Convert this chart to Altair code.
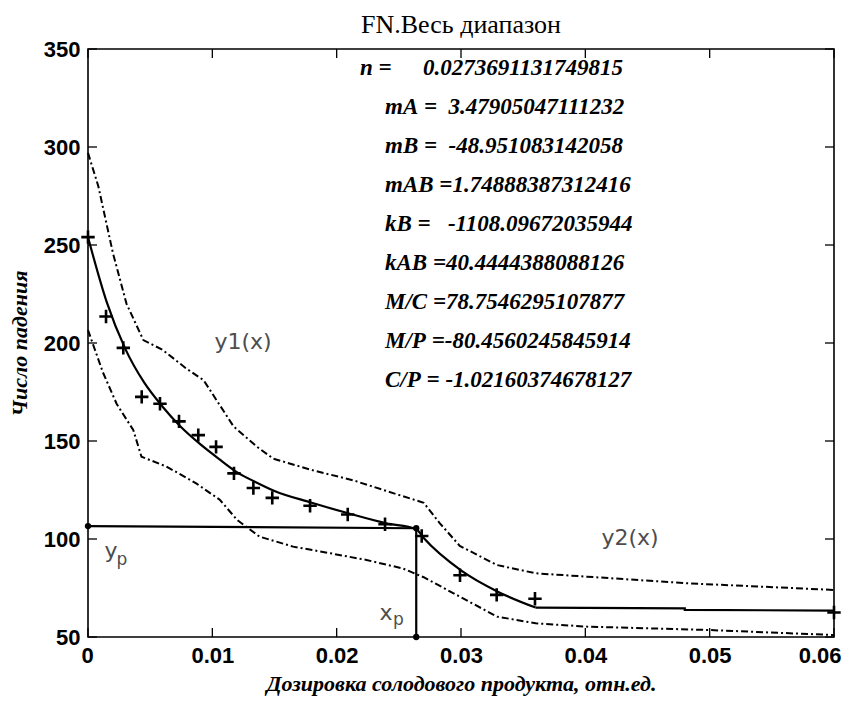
import altair as alt
import pandas as pd

# ---------------- data ----------------
pts_x = [0.0, 0.00145, 0.00284, 0.00432, 0.00579, 0.00732, 0.00887, 0.0103, 0.01174,
         0.0133, 0.01482, 0.01786, 0.02089, 0.02389, 0.02684, 0.02992, 0.03287, 0.03595, 0.06]
pts_y = [254, 213.5, 197.5, 172.5, 169, 160, 153, 147, 133.5,
         126, 121, 117, 112.5, 107.5, 101.5, 81.5, 71.5, 69.5, 62.5]

# fitted curve y1(x) -> y2(x)
fit_x = [0, 0.0015, 0.003, 0.0045, 0.006, 0.0075, 0.009, 0.0105, 0.012, 0.0135, 0.015,
         0.018, 0.021, 0.024, 0.0264, 0.027, 0.030, 0.033, 0.036]
fit_y = [254, 221, 197, 180, 167.5, 157, 148.5, 141, 134, 129, 124.5,
         118.5, 113, 108, 105, 100.5, 84, 73, 65]
# flat tail of the fitted curve
tail_x = [0.036, 0.048, 0.048, 0.06]
tail_y = [65, 64.6, 63.8, 63.5]

up_x = [0, 0.00083, 0.002, 0.0031, 0.00445, 0.006, 0.0079, 0.0093, 0.0117, 0.0136, 0.0149,
        0.0181, 0.0213, 0.0246, 0.027, 0.0283, 0.0299, 0.0329, 0.036, 0.0401, 0.0482, 0.06]
up_y = [297, 280, 246, 220, 201.5, 196.5, 187, 181, 157.5, 147, 141,
        135, 130, 123.3, 118.5, 108, 96.5, 86.7, 82.5, 80.8, 77.4, 74]

lo_x = [0, 0.0012, 0.0023, 0.00364, 0.0043, 0.0063, 0.0087, 0.0106, 0.012, 0.0138, 0.0165,
        0.0195, 0.0224, 0.0253, 0.027, 0.0299, 0.0329, 0.036, 0.0401, 0.0498, 0.06]
lo_y = [206.6, 185, 169, 155.6, 142, 137, 128.4, 120, 109.7, 101.2, 96.1,
        92.7, 89.3, 85, 80.5, 70.6, 60.4, 57, 55.3, 53.6, 51]

# break point (x_p, y_p) guide lines
guide_x = [0.0, 0.0264, 0.0264]
guide_y = [106.6, 105.5, 50.0]

x_ticks = [0, 0.01, 0.02, 0.03, 0.04, 0.05, 0.06]
y_ticks = [50, 100, 150, 200, 250, 300, 350]

stat_labels = ["n =", "mA =  3.47905047111232", "mB =  -48.951083142058",
               "mAB =1.74888387312416", "kB =   -1108.09672035944",
               "kAB =40.4444388088126", "M/C =78.7546295107877",
               "M/P =-80.4560245845914", "C/P = -1.02160374678127"]
n_value = "0.0273691131749815"

title_text = "FN.Весь диапазон"
x_title = "Дозировка солодового продукта, отн.ед."
y_title = "Число падения"

# ---------------- layout ----------------
W, H = 746, 588
XD = [0, 0.06]
YD = [50, 350]
SERIF = "Liberation Serif"
GRAY = "#4d4d4d"

def px_to_x(px):
    return XD[0] + (px - 88) / W * (XD[1] - XD[0])

def py_to_y(py):
    return YD[1] - (py - 49) / H * (YD[1] - YD[0])

xs = alt.Scale(domain=XD, nice=False, zero=False)
ys = alt.Scale(domain=YD, nice=False, zero=False)

X = alt.X("x:Q", scale=xs,
          axis=alt.Axis(values=x_ticks, format=".2~f", title=x_title, ticks=False,
                        domain=False, grid=False, labelPadding=8, labelFlush=True,
                        labelFlushOffset=7,
                        labelFont="Liberation Sans",
                        labelFontSize=22, labelFontWeight="bold", labelColor="black",
                        titleFont=SERIF, titleFontSize=22, titleFontStyle="italic",
                        titleFontWeight="bold", titleColor="black", titleY=46,
                        titleBaseline="middle"))
Y = alt.Y("y:Q", scale=ys,
          axis=alt.Axis(values=y_ticks, format="d", title=y_title, ticks=False,
                        domain=False, grid=False, labelPadding=8, labelFlush=False,
                        labelFont="Liberation Sans",
                        labelFontSize=22, labelFontWeight="bold", labelColor="black",
                        titleFont=SERIF, titleFontSize=22, titleFontStyle="italic",
                        titleFontWeight="bold", titleColor="black", titleX=-69,
                        titleBaseline="middle"))

fit_df = pd.DataFrame({"x": fit_x, "y": fit_y})
tail_df = pd.DataFrame({"x": tail_x, "y": tail_y, "o": range(len(tail_x))})
up_df = pd.DataFrame({"x": up_x, "y": up_y, "o": range(len(up_x))})
lo_df = pd.DataFrame({"x": lo_x, "y": lo_y, "o": range(len(lo_x))})
pts_df = pd.DataFrame({"x": pts_x, "y": pts_y})
guide_df = pd.DataFrame({"x": guide_x, "y": guide_y, "o": range(len(guide_x))})

fit = alt.Chart(fit_df).mark_line(color="black", strokeWidth=2.2,
                                  interpolate="monotone").encode(x=X, y=Y)
tail = alt.Chart(tail_df).mark_line(color="black", strokeWidth=2.2).encode(
    x="x:Q", y="y:Q", order="o:Q")

band_style = dict(color="black", strokeWidth=2, strokeDash=[7, 3, 2, 3])
upper = alt.Chart(up_df).mark_line(**band_style).encode(x="x:Q", y="y:Q", order="o:Q")
lower = alt.Chart(lo_df).mark_line(**band_style).encode(x="x:Q", y="y:Q", order="o:Q")

guides = alt.Chart(guide_df).mark_line(color="black", strokeWidth=2.2).encode(
    x="x:Q", y="y:Q", order="o:Q")
guide_dots = alt.Chart(guide_df).mark_circle(color="black", size=40, opacity=1).encode(
    x="x:Q", y="y:Q")

points = alt.Chart(pts_df).mark_point(
    shape="M-1,0L1,0M0,-1L0,1", size=180, color="black", strokeWidth=2.6,
    filled=False, opacity=1
).encode(x="x:Q", y="y:Q")

# inward ticks on all four sides
xt_df = pd.DataFrame({"x": x_ticks})
yt_df = pd.DataFrame({"y": y_ticks})
TL = 9
xt_bottom = alt.Chart(xt_df).mark_rule(color="black", strokeWidth=1.3).encode(
    x="x:Q", y=alt.value(H), y2=alt.value(H - TL))
xt_top = alt.Chart(xt_df).mark_rule(color="black", strokeWidth=1.3).encode(
    x="x:Q", y=alt.value(0), y2=alt.value(TL))
yt_left = alt.Chart(yt_df).mark_rule(color="black", strokeWidth=1.3).encode(
    y="y:Q", x=alt.value(0), x2=alt.value(TL))
yt_right = alt.Chart(yt_df).mark_rule(color="black", strokeWidth=1.3).encode(
    y="y:Q", x=alt.value(W), x2=alt.value(W - TL))

# statistics block
NB = "\u00a0"
stat_df = pd.DataFrame({
    "t": [s.replace(" ", NB) for s in stat_labels] + [n_value],
    "x": [px_to_x(360)] + [px_to_x(385)] * (len(stat_labels) - 1) + [px_to_x(423)],
    "y": [py_to_y(68 + 39 * k) for k in range(len(stat_labels))] + [py_to_y(68)],
})
stats = alt.Chart(stat_df).mark_text(
    font=SERIF, fontSize=23, fontStyle="italic", fontWeight="bold", color="black",
    align="left", baseline="middle"
).encode(x="x:Q", y="y:Q", text="t:N")

# curve labels
lab_df = pd.DataFrame({
    "t": ["y1(x)", "y2(x)", "y", "x"],
    "x": [px_to_x(243), px_to_x(630), px_to_x(111), px_to_x(386)],
    "y": [py_to_y(342), py_to_y(538), py_to_y(551), py_to_y(613)],
})
labels = alt.Chart(lab_df).mark_text(
    font="DejaVu Sans", fontSize=22, color=GRAY, align="center", baseline="middle"
).encode(x="x:Q", y="y:Q", text="t:N")
sub_df = pd.DataFrame({
    "t": ["p", "p"],
    "x": [px_to_x(122), px_to_x(398.5)],
    "y": [py_to_y(560), py_to_y(620)],
})
subs = alt.Chart(sub_df).mark_text(
    font="DejaVu Sans", fontSize=17, color=GRAY, align="center", baseline="middle"
).encode(x="x:Q", y="y:Q", text="t:N")

chart = alt.layer(
    fit, tail, upper, lower, guides, guide_dots, points,
    xt_bottom, xt_top, yt_left, yt_right, stats, labels, subs
).properties(
    width=W, height=H,
    title=alt.TitleParams(title_text, font=SERIF, fontSize=26, fontWeight="normal",
                          color="black", anchor="middle", frame="group", offset=0),
    autosize=alt.AutoSizeParams(type="none"),
    padding={"left": 80, "top": 41, "right": 15, "bottom": 59},
    background="white",
).configure_view(stroke="black", strokeWidth=1.6)

chart.save("out.html", embed_options={"renderer": "svg", "actions": False})
